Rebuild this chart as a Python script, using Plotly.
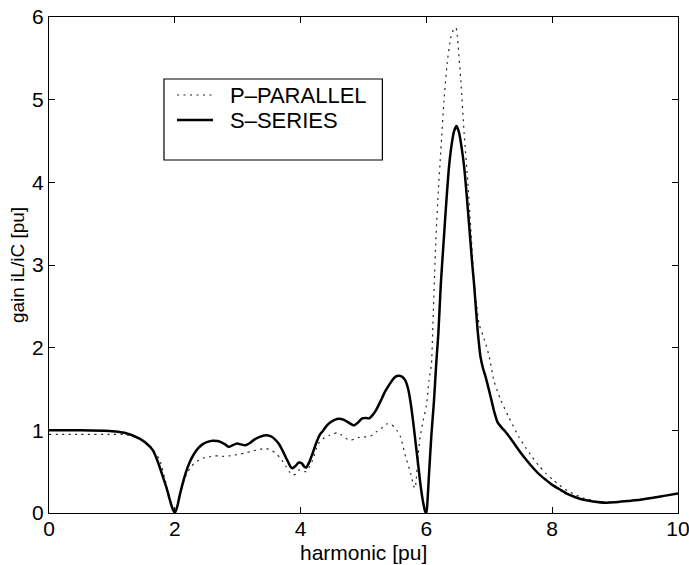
import plotly.graph_objects as go

# ---- data ----
s_x = [0.0, 0.5, 1.0, 1.2, 1.44, 1.55, 1.65, 1.73, 1.81, 1.87, 1.92, 1.96, 2.00, 2.04, 2.08,
       2.13, 2.18, 2.24, 2.31, 2.38, 2.44, 2.52, 2.60, 2.68, 2.74, 2.80, 2.86, 2.92, 2.99,
       3.05, 3.12, 3.20, 3.27, 3.35, 3.44, 3.52, 3.58, 3.65, 3.71, 3.76, 3.80, 3.84, 3.87,
       3.92, 3.97, 4.02, 4.06, 4.09, 4.14, 4.19, 4.25, 4.30, 4.35, 4.42, 4.48, 4.55, 4.61,
       4.68, 4.75, 4.85, 4.92, 4.98, 5.04, 5.09, 5.15, 5.20, 5.27, 5.33, 5.40, 5.46, 5.51,
       5.56, 5.61, 5.66, 5.71, 5.75, 5.79, 5.83, 5.87, 5.91, 5.95, 5.98, 6.00, 6.02, 6.04,
       6.08, 6.12, 6.16, 6.19, 6.23, 6.28, 6.32, 6.36, 6.40, 6.44, 6.48, 6.52, 6.56, 6.60,
       6.64, 6.69, 6.73, 6.76, 6.81, 6.86, 6.90, 6.94, 7.02, 7.08, 7.13, 7.20, 7.26, 7.35,
       7.47, 7.58, 7.68, 7.79, 7.90, 8.00, 8.11, 8.24, 8.37, 8.50, 8.65, 8.85, 9.0, 9.2,
       9.4, 9.6, 9.8, 10.0]
s_y = [1.00, 1.00, 0.99, 0.97, 0.90, 0.84, 0.76, 0.62, 0.44, 0.30, 0.16, 0.06, 0.00, 0.08, 0.22,
       0.37, 0.50, 0.62, 0.72, 0.79, 0.83, 0.86, 0.875, 0.87, 0.855, 0.83, 0.80, 0.82, 0.84,
       0.83, 0.82, 0.85, 0.89, 0.92, 0.94, 0.93, 0.90, 0.84, 0.76, 0.68, 0.62, 0.56, 0.54,
       0.57, 0.61, 0.60, 0.56, 0.55, 0.62, 0.72, 0.85, 0.94, 0.99, 1.06, 1.10, 1.13, 1.14,
       1.13, 1.10, 1.06, 1.10, 1.145, 1.15, 1.145, 1.19, 1.245, 1.35, 1.45, 1.54, 1.61, 1.65,
       1.66, 1.65, 1.61, 1.50, 1.33, 1.10, 0.84, 0.58, 0.32, 0.12, 0.02, 0.00, 0.18, 0.45,
       0.95, 1.35, 1.85, 2.17, 2.78, 3.35, 3.80, 4.19, 4.45, 4.62, 4.68, 4.60, 4.42, 4.19,
       3.85, 3.38, 3.00, 2.75, 2.25, 1.89, 1.75, 1.65, 1.41, 1.22, 1.10, 1.03, 0.98, 0.89,
       0.76, 0.65, 0.56, 0.47, 0.40, 0.34, 0.29, 0.23, 0.19, 0.16, 0.14, 0.125, 0.13, 0.145,
       0.16, 0.185, 0.21, 0.235]

p_x = [0.0, 0.5, 1.0, 1.2, 1.4, 1.55, 1.65, 1.76, 1.86, 1.94, 1.98, 2.00, 2.03, 2.08, 2.15,
       2.20, 2.26, 2.32, 2.39, 2.47, 2.55, 2.63, 2.71, 2.78, 2.86, 2.94, 3.03, 3.13, 3.24,
       3.35, 3.45, 3.53, 3.61, 3.67, 3.72, 3.77, 3.82, 3.87, 3.92, 3.97, 4.03, 4.09, 4.14,
       4.19, 4.25, 4.30, 4.38, 4.46, 4.53, 4.59, 4.64, 4.69, 4.75, 4.80, 4.87, 4.93, 5.00,
       5.04, 5.09, 5.14, 5.20, 5.28, 5.33, 5.38, 5.44, 5.49, 5.54, 5.59, 5.63, 5.67, 5.71,
       5.75, 5.78, 5.80, 5.82, 5.84, 5.86, 5.90, 5.95, 6.00, 6.04, 6.08, 6.10, 6.15, 6.19,
       6.23, 6.28, 6.33, 6.39, 6.44, 6.47, 6.49, 6.55, 6.60, 6.66, 6.71, 6.76, 6.80, 6.84,
       6.92, 7.00, 7.07, 7.18, 7.31, 7.47, 7.58, 7.68, 7.79, 7.90, 8.00, 8.11, 8.24, 8.37,
       8.50, 8.65, 8.85, 9.0, 9.2, 9.4, 9.6, 9.8, 10.0]
p_y = [0.95, 0.95, 0.95, 0.95, 0.92, 0.85, 0.77, 0.64, 0.36, 0.12, 0.03, 0.00, 0.06, 0.20, 0.40,
       0.49, 0.56, 0.61, 0.64, 0.67, 0.68, 0.69, 0.69, 0.685, 0.69, 0.70, 0.71, 0.73, 0.75,
       0.77, 0.78, 0.76, 0.72, 0.67, 0.62, 0.56, 0.50, 0.46, 0.47, 0.52, 0.51, 0.50, 0.56,
       0.64, 0.78, 0.86, 0.91, 0.94, 0.96, 0.97, 0.95, 0.92, 0.89, 0.88, 0.90, 0.915, 0.92,
       0.92, 0.93, 0.94, 0.98, 1.02, 1.06, 1.08, 1.07, 1.04, 0.99, 0.92, 0.80, 0.68, 0.58,
       0.48, 0.38, 0.32, 0.30, 0.42, 0.62, 0.92, 1.12, 1.30, 1.60, 1.80, 2.20, 3.30, 3.90,
       4.39, 4.99, 5.44, 5.76, 5.86, 5.87, 5.78, 5.20, 4.59, 3.99, 3.38, 2.78, 2.50, 2.28,
       2.10, 1.89, 1.61, 1.37, 1.16, 0.92, 0.79, 0.68, 0.57, 0.48, 0.41, 0.34, 0.27, 0.22,
       0.18, 0.15, 0.13, 0.135, 0.145, 0.16, 0.185, 0.21, 0.235]

x_ticks = [0, 2, 4, 6, 8, 10]
y_ticks = [0, 1, 2, 3, 4, 5, 6]
names = ["P\u2013PARALLEL", "S\u2013SERIES"]
x_title = "harmonic [pu]"
y_title = "gain iL/iC [pu]"

FONT = "Liberation Sans, Arial, Helvetica, sans-serif"

fig = go.Figure()
fig.add_trace(go.Scatter(x=p_x, y=p_y, mode="lines", name=names[0], showlegend=False,
                         line=dict(color="#222222", width=1.2, dash="2px,4.5px",
                                   shape="spline", smoothing=0.6)))
fig.add_trace(go.Scatter(x=s_x, y=s_y, mode="lines", name=names[1], showlegend=False,
                         line=dict(color="black", width=2.5, shape="spline", smoothing=0.6)))

# legend box drawn manually (paper coordinates)
fig.add_shape(type="rect", xref="paper", yref="paper", x0=0.1828, x1=0.5300, y0=0.7117, y1=0.875,
              line=dict(color="black", width=1.2), fillcolor="white", layer="above")
fig.add_shape(type="line", xref="paper", yref="paper", x0=0.2035, x1=0.2607, y0=0.8427, y1=0.8427,
              line=dict(color="#222222", width=1.2, dash="2px,4.5px"), layer="above")
fig.add_shape(type="line", xref="paper", yref="paper", x0=0.2035, x1=0.2607, y0=0.7923, y1=0.7923,
              line=dict(color="black", width=2.5), layer="above")
fig.add_annotation(xref="paper", yref="paper", x=0.2846, y=0.8427, text=names[0], showarrow=False,
                   xanchor="left", yanchor="middle", font=dict(family=FONT, size=22, color="black"))
fig.add_annotation(xref="paper", yref="paper", x=0.2846, y=0.7923, text=names[1], showarrow=False,
                   xanchor="left", yanchor="middle", font=dict(family=FONT, size=22, color="black"))

# x-axis title as an annotation anchored to the bottom edge
fig.add_annotation(xref="paper", yref="paper", x=0.5, y=-52 / 496, text=x_title, showarrow=False,
                   xanchor="center", yanchor="bottom", yshift=-1,
                   font=dict(family=FONT, size=21, color="black"))

fig.update_layout(
    width=689, height=565,
    margin=dict(l=49, r=11, t=17, b=52),
    paper_bgcolor="white", plot_bgcolor="white",
    font=dict(family=FONT, size=20, color="black"),
)
fig.update_xaxes(range=[0, 10], tickvals=x_ticks, ticks="inside", ticklen=6, tickwidth=1,
                 tickcolor="black", showline=True, linecolor="black", linewidth=1.2,
                 mirror="ticks", showgrid=False, zeroline=False, automargin=False,
                 ticklabeloverflow="allow", ticklabelstandoff=-3,
                 tickfont=dict(family=FONT, size=21))
fig.update_yaxes(range=[0, 6], tickvals=y_ticks, ticks="inside", ticklen=6, tickwidth=1,
                 tickcolor="black", showline=True, linecolor="black", linewidth=1.2,
                 mirror="ticks", showgrid=False, zeroline=False, automargin=False,
                 ticklabeloverflow="allow",
                 tickfont=dict(family=FONT, size=21),
                 title=dict(text=y_title, font=dict(family=FONT, size=19), standoff=2))

fig.write_html("out.html")
